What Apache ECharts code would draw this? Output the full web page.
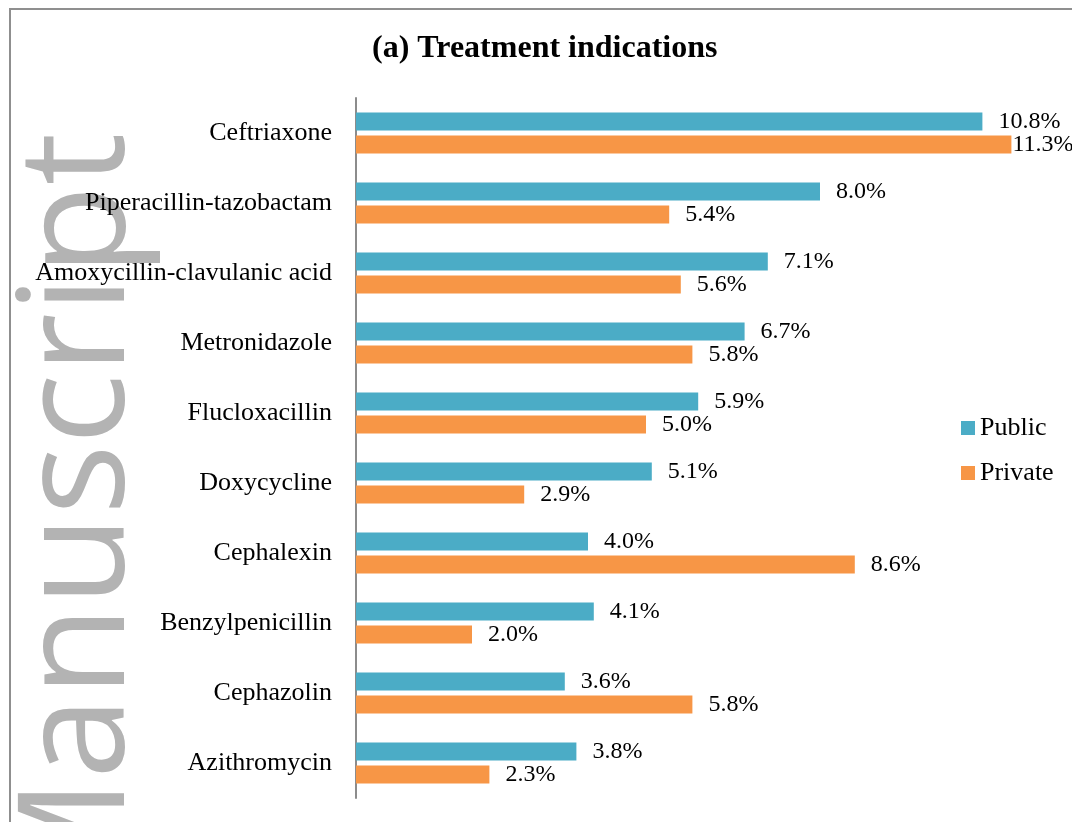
<!DOCTYPE html>
<html>
<head>
<meta charset="utf-8">
<script src="https://cdn.jsdelivr.net/npm/echarts@6/dist/echarts.min.js"></script>
<style>
html,body{margin:0;padding:0;background:#fff;}
#chart{width:1072px;height:822px;}
</style>
</head>
<body>
<div id="chart"></div>
<script>
const categories = ['Ceftriaxone','Piperacillin-tazobactam','Amoxycillin-clavulanic acid','Metronidazole','Flucloxacillin','Doxycycline','Cephalexin','Benzylpenicillin','Cephazolin','Azithromycin'];
const publicValues = [10.8, 8.0, 7.1, 6.7, 5.9, 5.1, 4.0, 4.1, 3.6, 3.8];
const privateValues = [11.3, 5.4, 5.6, 5.8, 5.0, 2.9, 8.6, 2.0, 5.8, 2.3];
const seriesNames = ['Public', 'Private'];
const titleText = '(a) Treatment indications';
const watermarkText = 'Manuscript';

const AXIS_MAX = 12;
const serif = '"Liberation Serif", "Times New Roman", serif';

function buildData(values) {
  return values.map(v => {
    const item = { value: v };
    if (v > 11) item.label = { distance: 1 };
    return item;
  });
}

const chart = echarts.init(document.getElementById('chart'), null, { renderer: 'canvas' });
const labelStyle = {
  show: true,
  position: 'right',
  distance: 16,
  color: '#000',
  fontFamily: serif,
  fontSize: 24,
  formatter: p => p.value.toFixed(1) + '%'
};

chart.setOption({
  backgroundColor: '#fff',
  animation: false,
  title: {
    text: titleText,
    left: 372,
    top: 33,
    padding: 0,
    textStyle: { fontFamily: serif, fontSize: 32, fontWeight: 'bold', color: '#000' }
  },
  graphic: [
    {
      type: 'rect',
      z: -20,
      shape: { x: 10, y: 9, width: 1300, height: 1200 },
      style: { fill: 'none', stroke: '#8f8f8f', lineWidth: 2 },
      silent: true
    },
    {
      type: 'text',
      z: -10,
      x: 82,
      y: 912,
      rotation: Math.PI / 2,
      silent: true,
      style: {
        text: watermarkText,
        fontFamily: '"Open Sans", sans-serif',
        fontSize: 148,
        fill: '#b3b3b3',
        align: 'left',
        verticalAlign: 'middle'
      }
    }
  ],
  legend: {
    orient: 'vertical',
    left: 961,
    top: 415,
    itemWidth: 14,
    itemHeight: 14,
    itemGap: 19,
    icon: 'rect',
    padding: 0,
    textStyle: { fontFamily: serif, fontSize: 26, color: '#000' },
    data: seriesNames
  },
  grid: { left: 356, right: 20, top: 98, bottom: 24, containLabel: false },
  xAxis: {
    type: 'value',
    min: 0,
    max: AXIS_MAX,
    show: false
  },
  yAxis: {
    type: 'category',
    data: categories,
    inverse: true,
    axisLine: { show: true, lineStyle: { color: '#8c8c8c', width: 2 } },
    axisTick: { show: false },
    axisLabel: { margin: 24, color: '#000', fontFamily: serif, fontSize: 26 },
    splitLine: { show: false }
  },
  series: [
    {
      name: seriesNames[0],
      type: 'bar',
      data: buildData(publicValues),
      barWidth: 18,
      barGap: '28%',
      itemStyle: { color: '#4BACC6' },
      label: labelStyle
    },
    {
      name: seriesNames[1],
      type: 'bar',
      data: buildData(privateValues),
      barWidth: 18,
      barGap: '28%',
      itemStyle: { color: '#F79646' },
      label: labelStyle
    }
  ]
});
</script>
</body>
</html>
